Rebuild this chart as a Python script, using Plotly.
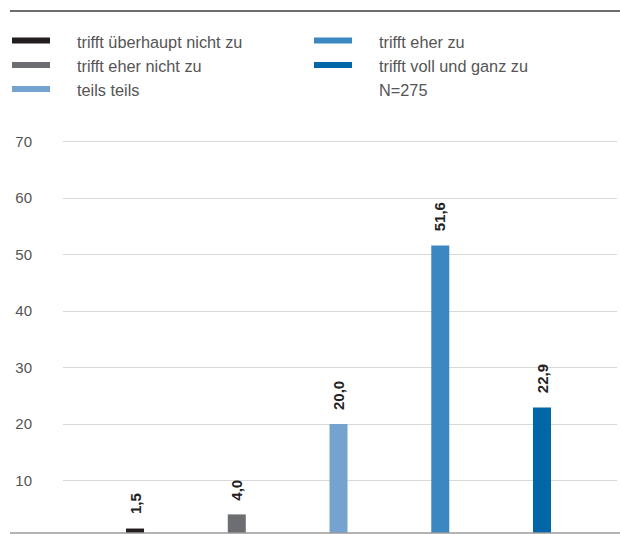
import plotly.graph_objects as go

categories = ["trifft überhaupt nicht zu", "trifft eher nicht zu", "teils teils",
              "trifft eher zu", "trifft voll und ganz zu"]
values = [1.5, 4.0, 20.0, 51.6, 22.9]
colors = ["#231f20", "#6d6e71", "#74a3d0", "#3a87c2", "#0066a8"]
note = "N=275"
tick_vals = [10, 20, 30, 40, 50, 60, 70]

W, H = 620, 534
ML, MR, MT, MB = 63, 3, 130, 1
PW, PH = W - ML - MR, H - MT - MB

def px_x(x):
    return (x - ML) / PW

def px_y(y):
    return (H - MB - y) / PH

FONT = "Liberation Sans, Arial, Helvetica, sans-serif"

fig = go.Figure()
fig.add_trace(go.Bar(
    x=list(range(len(categories))), y=values, marker_color=colors,
    width=0.177, marker_line_width=0, showlegend=False, hoverinfo="skip",
))

annotations = []
for i, v in enumerate(values):
    annotations.append(dict(
        x=i, y=v, xref="x", yref="y", text="<b>" + f"{v:.1f}".replace(".", ",") + "</b>",
        textangle=-90, showarrow=False, xanchor="center", yanchor="bottom", yshift=12,
        font=dict(family=FONT, size=15, color="#222222"),
    ))

shapes = [
    dict(type="line", xref="paper", yref="paper", x0=px_x(10), x1=px_x(620),
         y0=px_y(11), y1=px_y(11), line=dict(color="#6d6d6d", width=2)),
    dict(type="line", xref="paper", yref="paper", x0=px_x(10), x1=px_x(620),
         y0=px_y(533), y1=px_y(533), line=dict(color="#9a9a9a", width=1.5)),
]

# legend, drawn manually
leg_items = [(categories[0], colors[0], 12, 40.5), (categories[1], colors[1], 12, 65),
             (categories[2], colors[2], 12, 89), (categories[3], colors[3], 314, 40.5),
             (categories[4], colors[4], 314, 65)]
for label, col, lx, ly in leg_items:
    shapes.append(dict(type="rect", xref="paper", yref="paper", x0=px_x(lx), x1=px_x(lx + 38),
                       y0=px_y(ly + 3), y1=px_y(ly - 3), fillcolor=col, line=dict(width=0)))
    annotations.append(dict(x=px_x(lx + 65), y=px_y(ly + 1), xref="paper", yref="paper", text=label,
                            showarrow=False, xanchor="left", yanchor="middle", xshift=-2,
                            font=dict(family=FONT, size=16.3, color="#555555")))
annotations.append(dict(x=px_x(379), y=px_y(90), xref="paper", yref="paper", text=note,
                        showarrow=False, xanchor="left", yanchor="middle", xshift=-2,
                        font=dict(family=FONT, size=16.3, color="#555555")))

fig.update_layout(
    width=W, height=H, margin=dict(l=ML, r=MR, t=MT, b=MB),
    paper_bgcolor="white", plot_bgcolor="white",
    shapes=shapes, annotations=annotations, showlegend=False,
    xaxis=dict(range=[-0.708, 4.737], showticklabels=False, showgrid=False,
               zeroline=False, showline=False, fixedrange=True),
    yaxis=dict(range=[0.708, 72.04], tickvals=tick_vals, showgrid=True,
               gridcolor="#d9d9d9", gridwidth=1, zeroline=False, showline=False,
               tickfont=dict(family=FONT, size=15, color="#555555"),
               ticklabelstandoff=30, fixedrange=True),
)

fig.write_html("out.html")
